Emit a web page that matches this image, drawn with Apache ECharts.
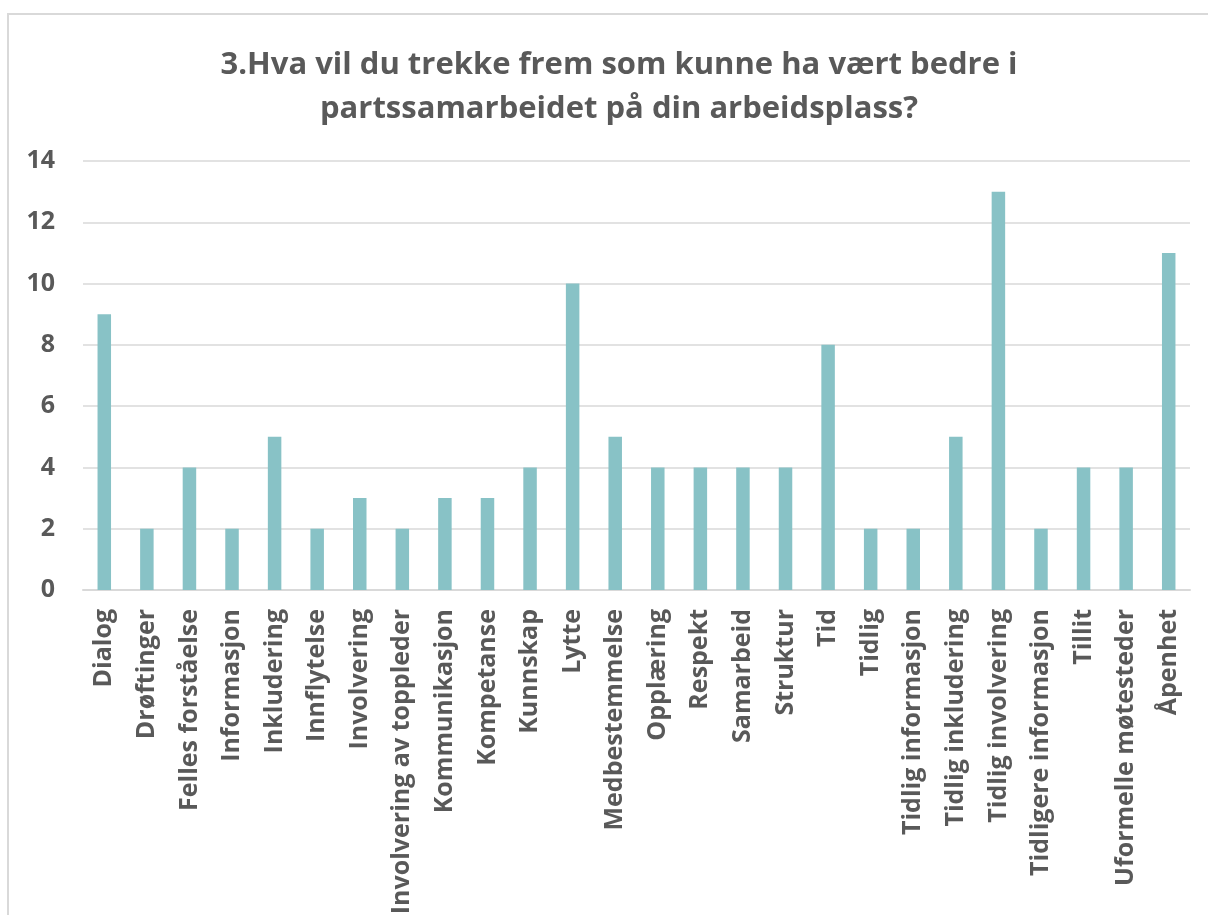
<!DOCTYPE html>
<html>
<head>
<meta charset="utf-8">
<script src="https://cdn.jsdelivr.net/npm/echarts@6/dist/echarts.min.js"></script>
<style>
  html, body { margin: 0; padding: 0; background: #fff; }
  #chart { width: 1208px; height: 915px; }
</style>
</head>
<body>
<div id="chart"></div>
<script>
const categories = [
  'Dialog', 'Drøftinger', 'Felles forståelse', 'Informasjon', 'Inkludering',
  'Innflytelse', 'Involvering', 'Involvering av toppleder', 'Kommunikasjon',
  'Kompetanse', 'Kunnskap', 'Lytte', 'Medbestemmelse', 'Opplæring', 'Respekt',
  'Samarbeid', 'Struktur', 'Tid', 'Tidlig', 'Tidlig informasjon',
  'Tidlig inkludering', 'Tidlig involvering', 'Tidligere informasjon', 'Tillit',
  'Uformelle møtesteder', 'Åpenhet'
]
const counts = [9, 2, 4, 2, 5, 2, 3, 2, 3, 3, 4, 10, 5, 4, 4, 4, 4, 8, 2, 2, 5, 13, 2, 4, 4, 11]
const yTicks = { min: 0, max: 14, step: 2 }

const chart = echarts.init(document.getElementById('chart'))
const textColor = '#595959'
const fontFamily = '"Open Sans", sans-serif'

chart.setOption({
  animation: false,
  title: {
    text: '3.Hva vil du trekke frem som kunne ha vært bedre i\npartssamarbeidet på din arbeidsplass?',
    left: 614,
    top: 38,
    textAlign: 'center',
    textStyle: {
      color: textColor,
      fontFamily: fontFamily,
      fontWeight: 'bold',
      fontSize: 31,
      lineHeight: 44
    }
  },
  // ytre ramme
  graphic: [{
    type: 'rect',
    shape: { x: 8, y: 14, width: 1220, height: 920 },
    style: { fill: 'none', stroke: '#d9d9d9', lineWidth: 2 },
    silent: true
  }],
  grid: { left: 83, right: 18, top: 161, bottom: 325, outerBoundsMode: 'none' },
  xAxis: {
    type: 'category',
    data: categories,
    axisLine: { lineStyle: { color: '#d9d9d9', width: 2 } },
    axisTick: { show: false },
    axisLabel: {
      rotate: 90,
      interval: 0,
      margin: 19,
      color: textColor,
      fontFamily: fontFamily,
      fontWeight: 'bold',
      fontSize: 25
    }
  },
  yAxis: {
    type: 'value',
    min: yTicks.min,
    max: yTicks.max,
    interval: yTicks.step,
    axisLine: { show: false },
    axisTick: { show: false },
    splitLine: { lineStyle: { color: '#d9d9d9', width: 1.5 } },
    axisLabel: {
      margin: 28,
      color: textColor,
      fontFamily: fontFamily,
      fontWeight: 'bold',
      fontSize: 25
    }
  },
  series: [{
    type: 'bar',
    data: counts,
    barWidth: 13.5,
    itemStyle: { color: '#88c2c6' }
  }]
})
</script>
</body>
</html>
